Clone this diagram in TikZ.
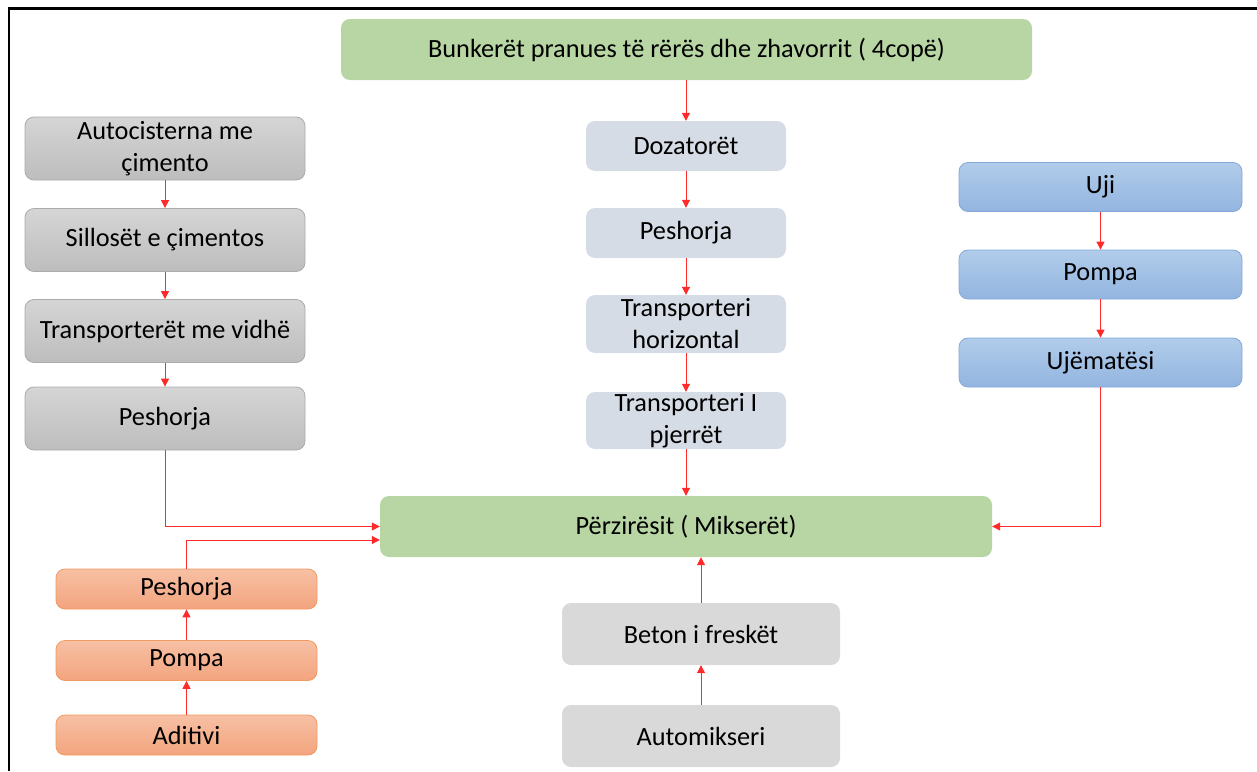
\documentclass[tikz,border=0pt]{standalone}
\usepackage{fontspec}
\setmainfont{Carlito}
\usetikzlibrary{arrows.meta}
\definecolor{greenF}{HTML}{B8D6A4}
\definecolor{slateF}{HTML}{D6DCE5}
\definecolor{lgreyF}{HTML}{D9D9D9}
\definecolor{greyT}{HTML}{D5D5D5}
\definecolor{greyB}{HTML}{BDBDBD}
\definecolor{greyD}{HTML}{ABABAB}
\definecolor{orT}{HTML}{F7C0A4}
\definecolor{orB}{HTML}{F3A47E}
\definecolor{orD}{HTML}{F19A62}
\definecolor{blT}{HTML}{B1CCEA}
\definecolor{blB}{HTML}{93B5E0}
\definecolor{blD}{HTML}{83A8DA}
\definecolor{arrR}{HTML}{FF2A2A}
\begin{document}
\begin{tikzpicture}[x=1pt,y=-1pt,
  basebox/.style={rounded corners=9pt, inner sep=0pt, align=center, text=black,
    font=\fontsize{26.3}{32}\selectfont},
  greenbox/.style={basebox, fill=greenF},
  slatebox/.style={basebox, fill=slateF, minimum width=200pt},
  lgreybox/.style={basebox, fill=lgreyF, minimum width=278pt, minimum height=62pt},
  greybox/.style={basebox, top color=greyT, bottom color=greyB, draw=greyD, line width=0.8pt,
    minimum width=280pt, minimum height=63pt},
  orbox/.style={basebox, top color=orT, bottom color=orB, draw=orD, line width=0.8pt,
    minimum width=261pt, minimum height=40pt},
  blbox/.style={basebox, top color=blT, bottom color=blB, draw=blD, line width=0.8pt,
    minimum width=283pt, minimum height=49pt},
  arr/.style={draw=arrR, line width=1pt, -{Triangle[length=8pt,width=8pt]}, arrR}
]
\useasboundingbox (0,0) rectangle (1257,771);
\draw[line width=2.6pt, black] (9,771) -- (9,8.5) -- (1257,8.5);

% top / middle column
\node[greenbox, minimum width=691pt, minimum height=61pt] (bunk) at (686.5,49.5) {Bunkerët pranues të rërës dhe zhavorrit ( 4copë)};
\node[slatebox, minimum height=50pt] (doz) at (686,146) {Dozatorët};
\node[slatebox, minimum height=50pt] (pesm) at (686,233) {Peshorja};
\node[slatebox, minimum height=58pt] (trh) at (686,324) {Transporteri\\horizontal};
\node[slatebox, minimum height=57pt] (trp) at (686,420.5) {Transporteri I\\pjerrët};
\node[greenbox, minimum width=612pt, minimum height=61pt] (mix) at (686,526.5) {Përzirësit ( Mikserët)};
\node[lgreybox] (bet) at (701,634) {Beton i freskët};
\node[lgreybox] (auto) at (701,736) {Automikseri};

% left grey column
\node[greybox] (g1) at (165,148.5) {Autocisterna me\\çimento};
\node[greybox] (g2) at (165,240) {Sillosët e çimentos};
\node[greybox] (g3) at (165,331) {Transporterët me vidhë};
\node[greybox] (g4) at (165,418.5) {Peshorja};

% orange column
\node[orbox] (o1) at (186.5,589) {Peshorja};
\node[orbox] (o2) at (186.5,660.5) {Pompa};
\node[orbox] (o3) at (186.5,735) {Aditivi};

% blue column
\node[blbox] (b1) at (1100.5,187) {Uji};
\node[blbox] (b2) at (1100.5,274.5) {Pompa};
\node[blbox] (b3) at (1100.5,362.5) {Ujëmatësi};

% connectors
\draw[arr] (bunk.south -| doz.north) -- (doz.north);
\draw[arr] (doz) -- (pesm);
\draw[arr] (pesm) -- (trh);
\draw[arr] (trh) -- (trp);
\draw[arr] (trp.south) -- (trp.south |- mix.north);

\draw[arr] (g1) -- (g2);
\draw[arr] (g2) -- (g3);
\draw[arr] (g3) -- (g4);
\draw[arr] (g4.south) |- (mix.west);

\draw[arr] (o3) -- (o2);
\draw[arr] (o2) -- (o1);
\draw[arr] (o1.north) |- ([yshift=-13.5pt]mix.west);

\draw[arr] (b1) -- (b2);
\draw[arr] (b2) -- (b3);
\draw[arr] (b3.south) |- (mix.east);

\draw[arr] (auto) -- (bet);
\draw[arr] (bet.north) -- (bet.north |- mix.south);
\end{tikzpicture}
\end{document}
